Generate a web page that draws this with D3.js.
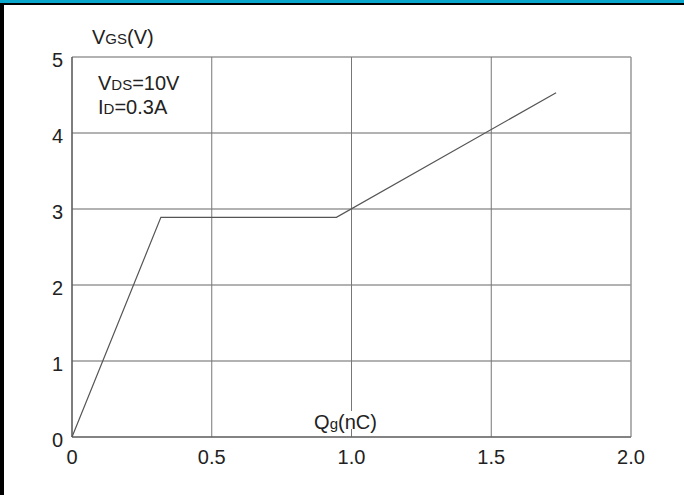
<!DOCTYPE html>
<html>
<head>
<meta charset="utf-8">
<script src="https://cdn.jsdelivr.net/npm/d3@7"></script>
<style>
  body { margin: 0; background: #fff; }
  svg text { font-family: "Liberation Sans", Arial, sans-serif; fill: #222; }
</style>
</head>
<body>
<div class="svg-container"></div>
<script>
// gate charge curve
const qg = [0, 0.318, 0.946, 1.732];
const vgs = [0, 2.89, 2.89, 4.53];
const xTicks = [0, 0.5, 1.0, 1.5, 2.0];
const xTickLabels = ['0', '0.5', '1.0', '1.5', '2.0'];
const yTicks = [0, 1, 2, 3, 4, 5];

const width = 684;
const height = 495;
const margin = { top: 57, bottom: 58, left: 72, right: 53 };

const svg = d3.select('.svg-container').append('svg')
  .attr('width', width)
  .attr('height', height);

// frame of the page
svg.append('rect').attr('x', 0).attr('y', 0).attr('width', width).attr('height', 3).attr('fill', '#0aa6cc');
svg.append('rect').attr('x', 0).attr('y', 3).attr('width', width).attr('height', 2).attr('fill', '#000');
svg.append('rect').attr('x', 0).attr('y', 3).attr('width', 4).attr('height', height).attr('fill', '#000');

const xScale = d3.scaleLinear()
  .domain([0, 2])
  .range([margin.left, width - margin.right]);

const yScale = d3.scaleLinear()
  .domain([0, 5])
  .range([height - margin.bottom, margin.top]);

// grid
svg.append('g').selectAll('line')
  .data(yTicks)
  .enter().append('line')
  .attr('x1', xScale(0)).attr('x2', xScale(2))
  .attr('y1', d => yScale(d)).attr('y2', d => yScale(d))
  .attr('stroke', '#999')
  .attr('stroke-width', 1.5);

svg.append('g').selectAll('line')
  .data(xTicks)
  .enter().append('line')
  .attr('x1', d => xScale(d)).attr('x2', d => xScale(d))
  .attr('y1', yScale(0)).attr('y2', yScale(5))
  .attr('stroke', d => d === 2 ? '#999' : '#777')
  .attr('stroke-width', d => d === 2 ? 1.5 : 1);

// axes lines (left + bottom darker)
svg.append('line')
  .attr('x1', xScale(0)).attr('x2', xScale(0))
  .attr('y1', yScale(0)).attr('y2', yScale(5))
  .attr('stroke', '#555').attr('stroke-width', 1.2);
svg.append('line')
  .attr('x1', xScale(0)).attr('x2', xScale(2))
  .attr('y1', yScale(0)).attr('y2', yScale(0))
  .attr('stroke', '#555').attr('stroke-width', 1.2);

// tick labels
svg.append('g').selectAll('text')
  .data(yTicks)
  .enter().append('text')
  .attr('x', xScale(0) - 9)
  .attr('y', d => yScale(d) + 3)
  .attr('dy', '0.35em')
  .style('text-anchor', 'end')
  .style('font-size', '20px')
  .text(d => d);

svg.append('g').selectAll('text')
  .data(xTicks)
  .enter().append('text')
  .attr('x', d => xScale(d))
  .attr('y', yScale(0) + 20)
  .attr('dy', '0.35em')
  .style('text-anchor', 'middle')
  .style('font-size', '20px')
  .text((d, i) => xTickLabels[i]);

// the curve
const line = d3.line()
  .x(d => xScale(d[0]))
  .y(d => yScale(d[1]));

svg.append('path')
  .datum(qg.map((q, i) => [q, vgs[i]]))
  .attr('fill', 'none')
  .attr('stroke', '#555')
  .attr('stroke-width', 1.2)
  .attr('d', line);

// labels with small subscripts
function label(x, y, parts, anchor) {
  const t = svg.append('text')
    .attr('x', x)
    .attr('y', y)
    .style('text-anchor', anchor || 'start')
    .style('font-size', '20px');
  parts.forEach(p => {
    t.append('tspan')
      .style('font-size', p[1] ? '15px' : '20px')
      .text(p[0]);
  });
  return t;
}

label(92, 44, [['V'], ['GS', true], ['(V)']]);
label(98, 90, [['V'], ['DS', true], ['=10V']]);
label(98, 114, [['I'], ['D', true], ['=0.3A']]);

const qlab = label(xScale(1) - 6, yScale(0) - 8, [['Q'], ['g', true], ['(nC)']], 'middle');
const bb = qlab.node().getBBox();
svg.insert('rect', () => qlab.node())
  .attr('x', bb.x - 1).attr('y', bb.y)
  .attr('width', bb.width + 2).attr('height', bb.height - 4)
  .attr('fill', '#fff');
</script>
</body>
</html>
